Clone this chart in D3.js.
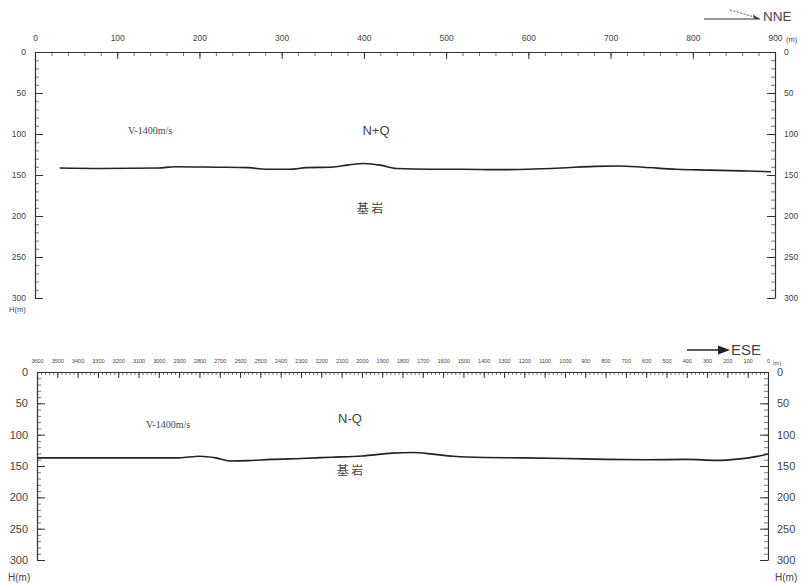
<!DOCTYPE html>
<html>
<head>
<meta charset="utf-8">
<script src="https://cdn.jsdelivr.net/npm/d3@7"></script>
<style>
  html, body { margin: 0; padding: 0; background: #fff; }
  svg { display: block; }
  text { font-family: "Liberation Sans", Arial, sans-serif; fill: #444; }
</style>
</head>
<body>
<svg id="chart" width="805" height="584"></svg>
<script>
// Profile 1 (NNE): distance along line (m) and bedrock depth (m)
const topDist  = [30, 80, 150, 170, 220, 260, 280, 310, 330, 360, 380, 400, 420, 440, 480, 520, 560, 600, 640, 680, 710, 740, 780, 820, 860, 895];
const topDepth = [141.5, 142, 141.5, 140, 140.5, 141, 143, 143, 141, 140.5, 138, 136, 138, 142, 143, 143, 143.5, 143, 141.5, 139.5, 139, 140.5, 143, 144, 145, 146];

// Profile 2 (ESE): distance along line (m, counted from the east end) and bedrock depth (m)
const botDist  = [3600, 3300, 2900, 2800, 2720, 2650, 2560, 2450, 2300, 2150, 2000, 1850, 1750, 1650, 1550, 1400, 1200, 1000, 800, 600, 400, 250, 150, 60, 0];
const botDepth = [137, 137, 137, 134.5, 137, 142, 141.5, 139.5, 138, 136, 134, 129.5, 128.5, 131, 134.5, 136.5, 137, 138, 139.5, 140, 139.5, 141, 139, 135, 131];

// Tick label values
const topXTicks = [0, 100, 200, 300, 400, 500, 600, 700, 800, 900];
const botXTicks = d3.range(3600, -1, -100);
const depthTicks = [0, 50, 100, 150, 200, 250, 300];

const svg = d3.select("#chart");
const ink = "#333";

function styleAxis(g, fontSize) {
  g.select(".domain").attr("stroke", ink).attr("stroke-width", 1.2);
  g.selectAll(".tick line").attr("stroke", ink).attr("stroke-width", 1);
  g.selectAll(".tick text").style("font-size", fontSize + "px").attr("fill", "#555");
}
function minorAxis(g) {
  g.select(".domain").remove();
  g.selectAll(".tick text").remove();
  g.selectAll(".tick line").attr("stroke", "#555").attr("stroke-width", 0.8);
}

function panel(opt) {
  const x = opt.x, y = opt.y;
  const g = svg.append("g");
  const [x0, x1] = x.range();
  const [y0, y1] = y.range();

  // top distance axis: minor ticks then labelled major ticks
  g.append("g").attr("transform", `translate(0,${y0})`)
    .call(d3.axisTop(x).tickValues(opt.xMinor).tickSizeInner(-opt.minorLen).tickSizeOuter(0).tickFormat(""))
    .call(minorAxis);
  g.append("g").attr("transform", `translate(0,${y0})`)
    .call(d3.axisTop(x).tickValues(opt.xMajor).tickSizeInner(-opt.majorLen).tickSizeOuter(0).tickPadding(opt.xPad + opt.majorLen).tickFormat(d3.format("d")))
    .call(g2 => styleAxis(g2, opt.xFont));

  // depth axes on both sides
  const yMinor = d3.range(0, 301, 10);
  g.append("g").attr("transform", `translate(${x0},0)`)
    .call(d3.axisLeft(y).tickValues(yMinor).tickSizeInner(-4).tickSizeOuter(0).tickFormat(""))
    .call(minorAxis);
  g.append("g").attr("transform", `translate(${x0},0)`)
    .call(d3.axisLeft(y).tickValues(depthTicks).tickSizeInner(-8).tickSizeOuter(0).tickPadding(opt.yPad))
    .call(g2 => styleAxis(g2, opt.yFont));
  g.append("g").attr("transform", `translate(${x1},0)`)
    .call(d3.axisRight(y).tickValues(yMinor).tickSizeInner(-4).tickSizeOuter(0).tickFormat(""))
    .call(minorAxis);
  g.append("g").attr("transform", `translate(${x1},0)`)
    .call(d3.axisRight(y).tickValues(depthTicks).tickSizeInner(-8).tickSizeOuter(0).tickPadding(opt.yPad))
    .call(g2 => styleAxis(g2, opt.yFont));

  // bedrock interface
  const pts = opt.dist.map((d, i) => [x(d), y(opt.depth[i])]);
  g.append("path")
    .attr("d", d3.line().curve(d3.curveMonotoneX)(pts.sort((a, b) => a[0] - b[0])))
    .attr("fill", "none").attr("stroke", "#222").attr("stroke-width", 1.6);
  return g;
}

// ---- Profile 1 ----
const xTop = d3.scaleLinear().domain([0, 900]).range([35, 775]);
const yTop = d3.scaleLinear().domain([0, 300]).range([52, 298]);
const p1 = panel({
  x: xTop, y: yTop, dist: topDist, depth: topDepth,
  xMajor: topXTicks, xMinor: d3.range(0, 901, 20),
  minorLen: 4, majorLen: 7, xPad: 4, xFont: 8.5, yFont: 8.5, yPad: 9
});
p1.append("text").attr("x", 786).attr("y", 42).style("font-size", "7.5px").text("(m)");
p1.append("text").attr("x", 9).attr("y", 312).style("font-size", "7.5px").text("H(m)");
p1.append("text").attr("x", 128).attr("y", 134).style("font-size", "10px").style("font-family", "Liberation Serif, serif").text("V-1400m/s");
p1.append("text").attr("x", 376).attr("y", 135).attr("text-anchor", "middle").style("font-size", "13px").text("N+Q");
p1.append("text").attr("x", 370).attr("y", 213).attr("text-anchor", "middle").style("font-size", "12px")
  .style("font-family", "Noto Sans CJK SC").attr("fill", "#555").text("基 岩");

// NNE direction marker
const dirTop = svg.append("g");
dirTop.append("line").attr("x1", 704).attr("y1", 19).attr("x2", 760).attr("y2", 19).attr("stroke", "#333").attr("stroke-width", 1);
dirTop.append("line").attr("x1", 730).attr("y1", 10).attr("x2", 758).attr("y2", 18).attr("stroke", "#555").attr("stroke-width", 1).attr("stroke-dasharray", "2,1.5");
dirTop.append("path").attr("d", "M760,19 L753,14.5 L754,19 Z").attr("fill", "#444");
dirTop.append("text").attr("x", 763).attr("y", 21).style("font-size", "13.5px").attr("fill", "#333").text("NNE");

// ---- Profile 2 ----
const xBot = d3.scaleLinear().domain([3600, 0]).range([37, 768]);
const yBot = d3.scaleLinear().domain([0, 300]).range([372, 560]);
const p2 = panel({
  x: xBot, y: yBot, dist: botDist, depth: botDepth,
  xMajor: botXTicks, xMinor: d3.range(0, 3601, 20),
  minorLen: 3, majorLen: 6, xPad: 3, xFont: 5.5, yFont: 11, yPad: 9
});
p2.append("text").attr("x", 773).attr("y", 365).style("font-size", "5.5px").text("(m)");
p2.append("text").attr("x", 8).attr("y", 581).style("font-size", "10px").text("H(m)");
p2.append("text").attr("x", 775).attr("y", 581).style("font-size", "10px").text("H(m)");
p2.append("text").attr("x", 146).attr("y", 428).style("font-size", "10px").style("font-family", "Liberation Serif, serif").text("V-1400m/s");
p2.append("text").attr("x", 350).attr("y", 423).attr("text-anchor", "middle").style("font-size", "13px").text("N-Q");
p2.append("text").attr("x", 350).attr("y", 475).attr("text-anchor", "middle").style("font-size", "12px")
  .style("font-family", "Noto Sans CJK SC").attr("fill", "#555").text("基 岩");

// ESE direction marker
const dirBot = svg.append("g");
dirBot.append("line").attr("x1", 687).attr("y1", 350).attr("x2", 720).attr("y2", 350).attr("stroke", "#222").attr("stroke-width", 1.6);
dirBot.append("path").attr("d", "M730,350 L718,345.5 L718,354.5 Z").attr("fill", "#222");
dirBot.append("text").attr("x", 731).attr("y", 355).style("font-size", "15px").attr("fill", "#333").text("ESE");
</script>
</body>
</html>
